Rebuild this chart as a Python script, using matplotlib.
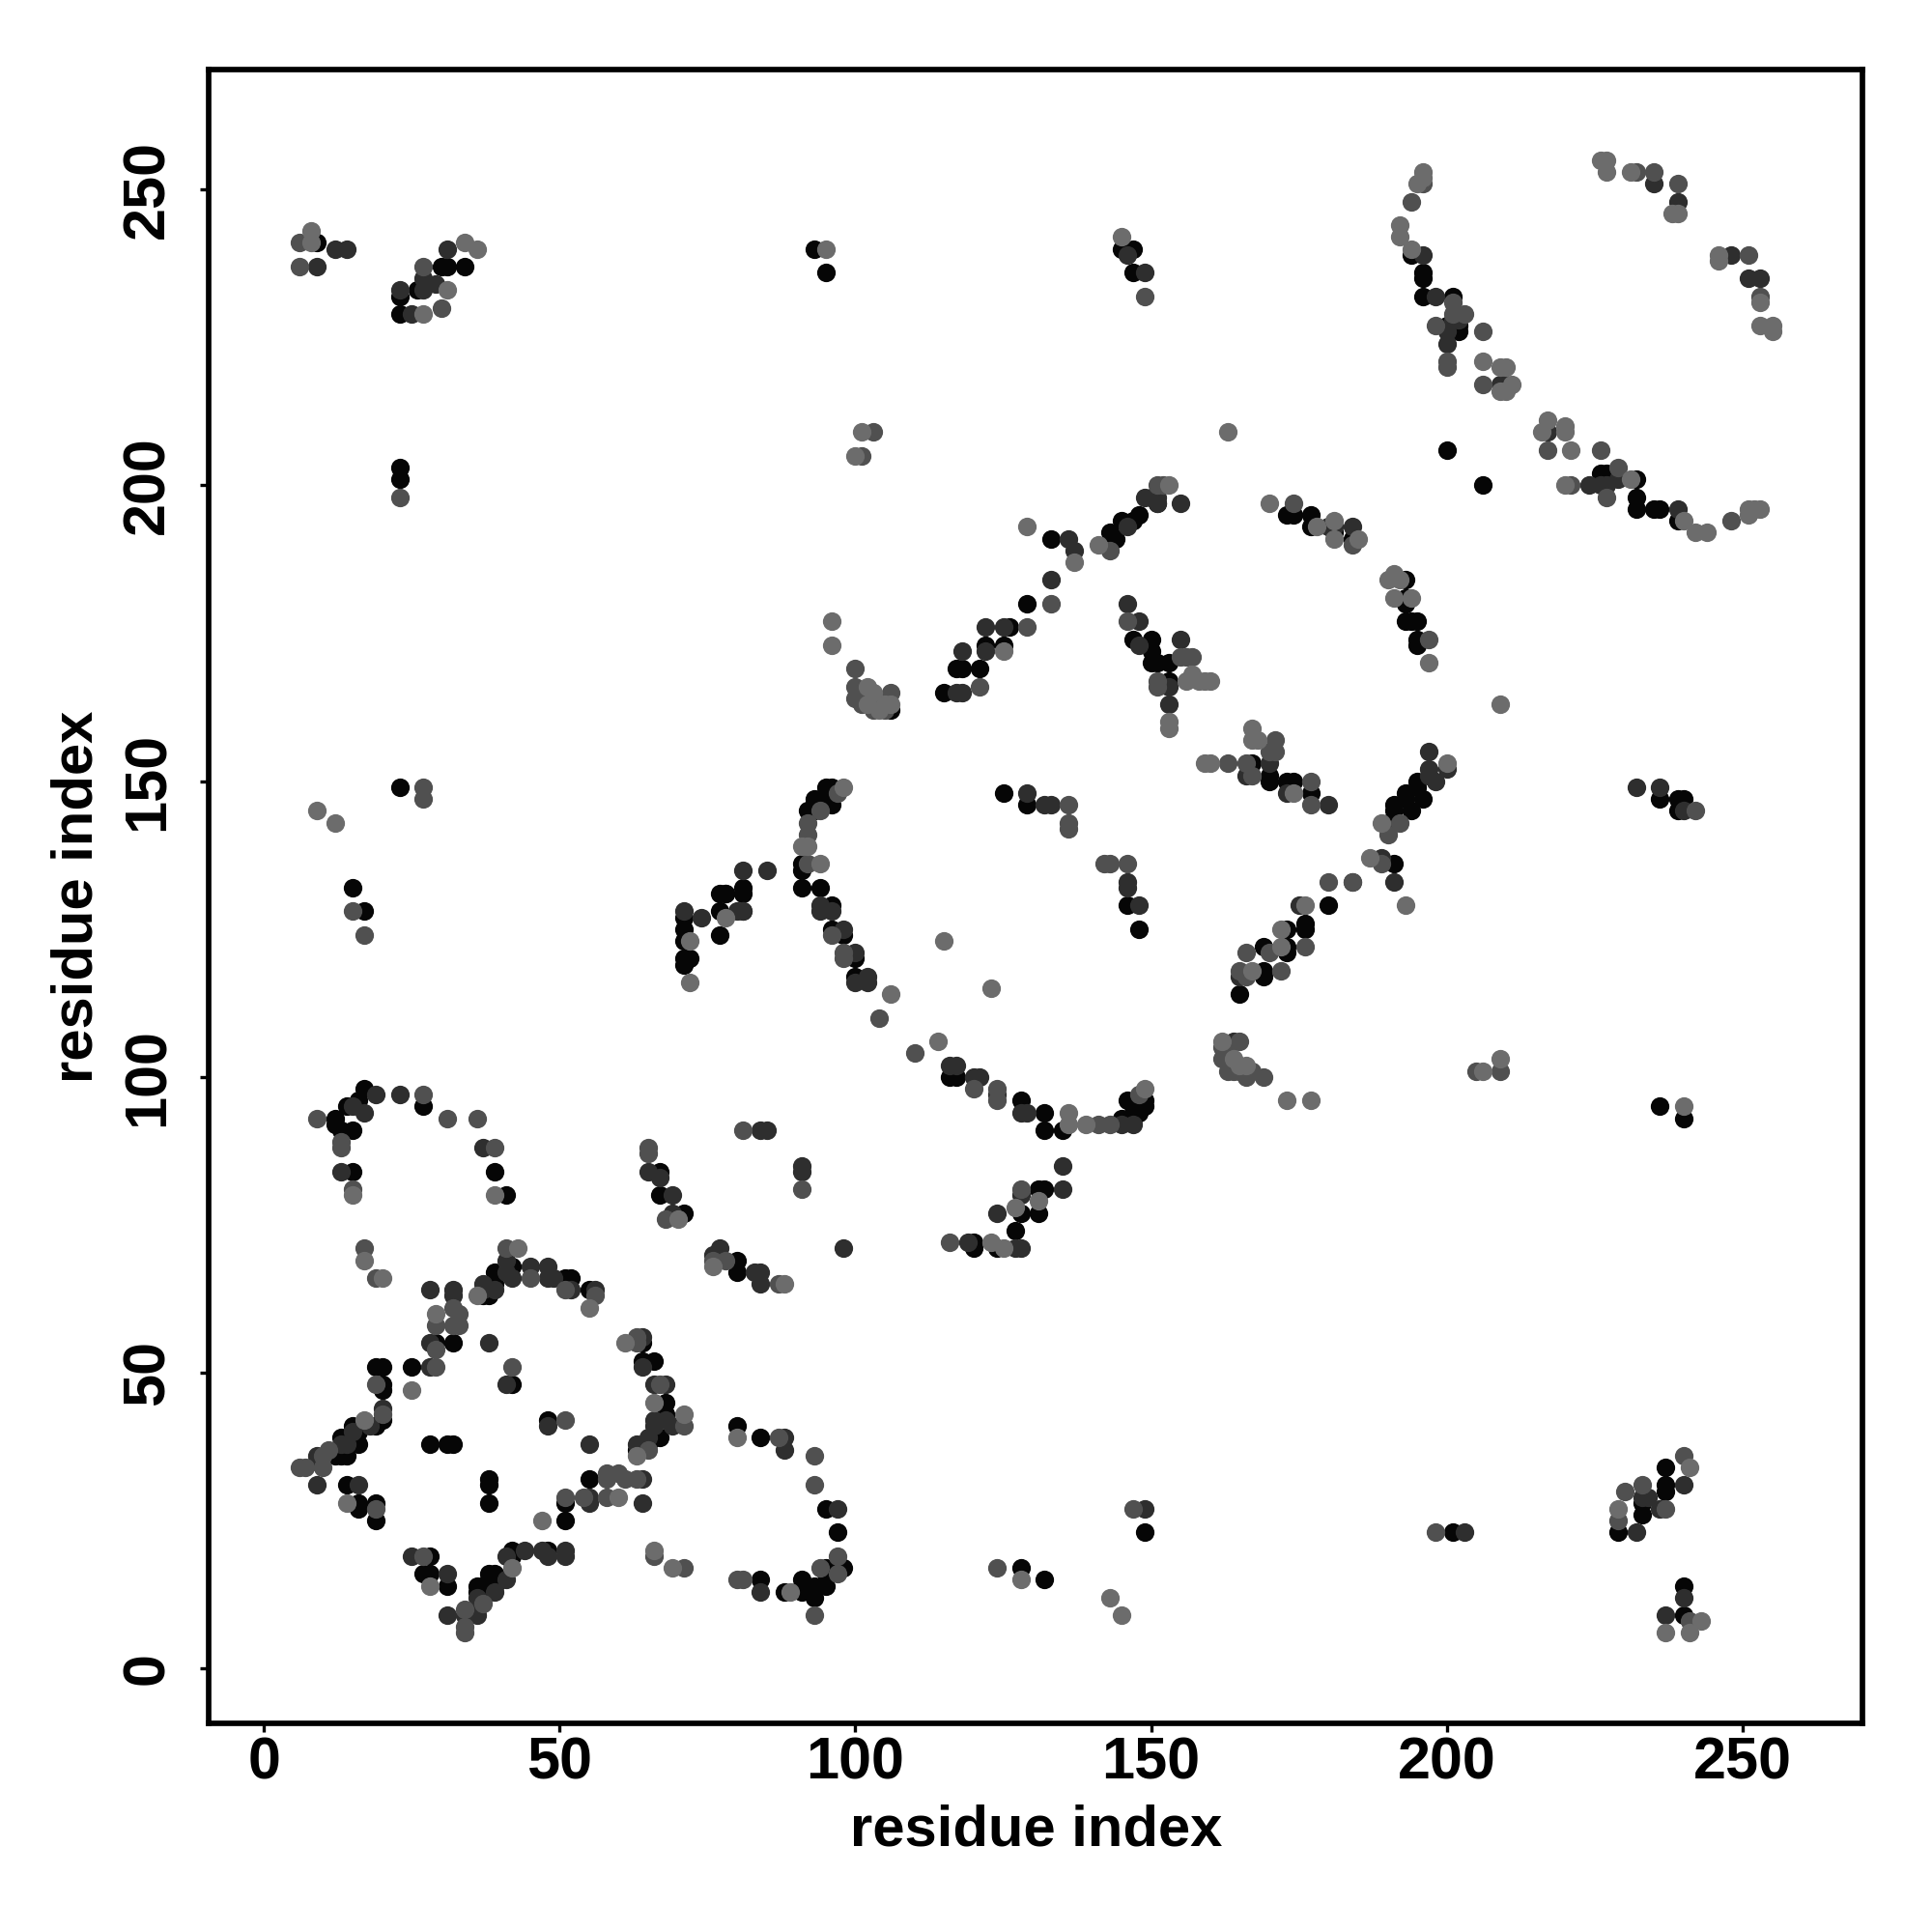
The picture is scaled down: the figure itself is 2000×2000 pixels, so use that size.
import matplotlib
matplotlib.use("Agg")
import matplotlib.pyplot as plt

plt.rcParams['font.family'] = ['Liberation Sans', 'DejaVu Sans']

tick_values = [0, 50, 100, 150, 200, 250]
axis_label = "residue index"

contacts_light = [(17,69),(20,66),(29,60),(25,47),(17,42),(14,28),(28,14),(42,17),(47,25),(36,63),(43,71),(55,61),(61,55),
 (66,45),(71,43),(63,36),(60,29),(76,68),(88,65),(80,39),(89,13),(66,20),(69,17),(98,149),(91,139),(92,139),(94,136),
 (106,114),(114,106),(115,123),(123,115),(136,94),(136,92),(139,92),(149,98),(162,106),(165,102),(173,96),(177,96),(206,101),(209,103),
 (127,78),(131,79),(123,72),(125,71),(78,127),(200,153),(189,143),(187,137),(193,129),(176,129),(172,125),(172,122),(167,118),
 (153,159),(167,159),(167,157),(168,157),(159,153),(160,153),(174,148),(196,253),(196,252),(195,251),(192,244),(192,242),(194,240),
 (206,221),(209,220),(210,220),(209,216),(210,216),(211,217),(226,255),(227,255),(227,253),(231,253),(238,246),(239,246),(246,239),(246,238),
 (253,231),(253,227),(255,227),(255,226),(163,209),(217,211),(216,209),(220,210),(220,209),(221,206),(220,200),(231,201),(240,194),(242,192),(244,192),
 (251,196),(251,195),(252,196),(253,196),(153,200),(170,197),(178,193),(181,194),(181,191),(185,191),(191,185),(190,184),(192,184),(191,181),(194,181),(197,170),
 (209,163),(156,167),(157,168),(158,167),(159,167),(160,167),(153,160),(27,229),(31,233),(34,241),(36,240),(95,240),(145,242),(101,209),(100,205),
 (125,172),(129,193),(137,187),(141,190),(96,177),(96,173),(102,166),(105,163),(104,162),(106,163),(72,123),(72,116),(70,76),
 (39,80),(15,80),(9,145),(12,143),(240,95),(241,34),(243,8),(237,6),(241,6),(128,15),(143,12),(145,9),(229,27),(8,243),(8,241),
 (166,102),(164,103),(103,165),(102,163)]

contacts_mid = [(17,71),(19,66),(29,58),(32,61),(33,60),(32,58),(33,58),(29,54),(29,51),(42,51),(19,48),(20,43),(10,36),(11,37),(10,34),(6,34),(7,34),
 (19,27),(51,42),(58,33),(60,33),(58,32),(61,32),(63,32),(51,29),(54,29),(58,29),(27,19),(37,11),(34,10),(34,7),(34,6),(41,71),(45,66),(51,64),(56,63),
 (63,56),(63,55),(67,48),(71,41),(65,37),(76,69),(78,69),(87,65),(87,39),(93,36),(93,31),(97,19),(97,16),(94,17),(93,9),(80,15),(81,15),(66,19),(71,17),
 (97,148),(94,145),(92,143),(92,141),(92,136),(96,124),(98,121),(98,120),(104,110),(110,104),(120,98),(124,98),(124,96),(141,92),(143,92),(148,97),
 (165,106),(162,103),(163,101),(166,100),(169,100),(205,101),(209,101),(81,91),(91,81),(128,81),(116,72),(136,146),(136,143),(136,142),(142,136),(143,136),(146,136),
 (192,143),(190,141),(189,136),(184,133),(180,133),(176,122),(170,121),(166,121),(172,118),(165,118),(166,117),(171,157),(170,155),(171,155),(163,153),(166,153),(167,151),(177,150),(177,146),
 (196,251),(194,248),(201,231),(198,227),(201,229),(203,229),(200,221),(200,220),(206,226),(206,217),(232,253),(235,253),(239,251),(251,239),(253,232),
 (217,206),(226,206),(221,200),(229,203),(227,198),(248,194),(151,200),(174,197),(184,190),(197,174),(155,171),(156,171),(157,171),(6,241),(6,237),
 (27,237),(30,230),(149,232),(103,209),(101,205),(121,166),(129,176),(133,180),(143,189),(152,200),(100,169),(100,166),(100,164),(101,163),(103,162),(106,165),(102,165),
 (146,177),(151,167),(151,166),(65,88),(65,87),(68,76),(13,89),(13,88),(15,81),(9,93),(27,97),(31,93),(36,93),(39,88),(27,149),(27,147),(15,128),(17,124),
 (198,23),(229,25),(230,30),(233,31),(237,27),(240,36),(241,8),(242,145),(124,17),(147,27),
 (23,198),(162,105),(163,104),(165,101),(164,101),(167,101),(101,165),(104,163),(105,162)]

contacts_dark = [(28,64),(32,64),(32,63),(28,55),(38,55),(28,51),(41,48),(20,44),(18,41),(15,40),(13,38),(14,38),(9,36),(9,31),(16,31),(48,41),(55,38),(64,32),
 (55,29),(55,28),(64,28),(25,19),(44,20),(47,20),(51,20),(48,19),(51,19),(41,19),(31,16),(41,15),(39,13),(36,12),(36,10),(31,9),(34,9),(36,9),(37,64),(39,64),
 (37,65),(41,67),(42,66),(41,69),(45,68),(48,68),(48,66),(49,66),(52,64),(56,64),(64,56),(64,51),(66,48),(68,48),(66,42),(68,42),(69,41),(66,41),(65,39),(63,38),
 (77,71),(76,70),(83,67),(84,67),(84,65),(98,71),(88,39),(88,37),(97,27),(84,13),(94,128),(96,128),(98,125),(100,121),(100,116),(102,117),(102,116),(116,102),(117,102),
 (120,100),(121,100),(124,97),(128,94),(129,94),(145,92),(164,106),(84,91),(85,91),(91,85),(91,84),(135,85),(135,81),(128,80),(124,77),(119,72),(127,71),(128,71),
 (81,135),(85,135),(81,128),(94,129),(129,148),(132,146),(133,146),(146,133),(146,132),(148,129),(197,155),(200,152),(197,152),(197,151),(198,150),(190,142),(189,137),
 (191,133),(184,133),(175,129),(165,117),(170,153),(166,151),(173,148),(180,146),(196,239),(198,232),(201,228),(202,228),(200,226),(200,224),(235,251),(239,248),
 (248,239),(251,235),(253,235),(209,217),(210,217),(217,209),(224,200),(226,200),(227,200),(229,201),(239,196),(155,197),(151,198),(181,193),(180,193),(184,193),
 (155,174),(153,166),(153,163),(12,240),(14,240),(9,237),(23,233),(25,229),(27,233),(27,235),(29,234),(31,240),(146,239),(149,236),(117,165),(118,165),(118,172),(122,172),
 (122,176),(125,176),(133,184),(136,191),(137,189),(146,193),(149,198),(151,197),(146,180),(148,177),(148,173),(71,128),(74,127),(81,128),(80,128),(65,84),(67,83),(69,80),(69,77),
 (37,88),(15,95),(17,94),(19,97),(23,97),(233,29),(234,29),(236,27),(240,31),(240,12),(237,9),(232,149),(236,149),(240,145),(232,23),(203,23),(149,27),
 (13,84),(147,92)]

contacts_black = [(19,51),(20,51),(25,51),(20,48),(20,47),(29,55),(32,55),(42,48),(20,42),(19,41),(15,41),(16,40),(13,39),(15,39),(16,38),(12,36),(14,36),(13,36),(9,35),
 (14,31),(16,28),(16,27),(19,28),(19,25),(28,38),(31,38),(32,38),(48,42),(38,32),(38,31),(38,28),(55,32),(51,28),(51,25),(28,19),(48,20),(42,20),(42,19),(27,16),(28,16),(31,14),
 (38,16),(39,16),(38,15),(39,14),(36,14),(36,13),(38,13),(37,63),(38,63),(38,64),(39,65),(39,67),(42,68),(52,66),(51,66),(55,64),(64,55),(64,52),(66,52),(68,45),(68,43),(67,39),
 (65,38),(63,37),(80,69),(80,67),(80,41),(84,39),(95,27),(97,23),(98,17),(95,17),(95,16),(95,14),(91,15),(93,14),(91,14),(91,13),(93,12),(88,13),(84,15),
 (95,149),(96,149),(95,148),(93,147),(96,146),(93,146),(92,145),(93,145),(91,135),(91,136),(91,132),(94,132),(96,129),(96,125),(98,124),(100,120),(100,117),(116,100),(117,100),
 (128,96),(132,94),(132,91),(135,91),(147,93),(146,96),(149,95),(149,96),(131,81),(132,81),(131,77),(128,77),(127,74),(120,72),(120,71),(124,71),
 (81,132),(81,131),(78,131),(125,148),(129,146),(146,129),(148,125),(195,150),(195,149),(193,148),(196,147),(193,147),(191,146),(194,145),(191,145),(190,143),(191,136),
 (180,129),(176,126),(176,125),(173,125),(173,122),(169,122),(173,121),(169,118),(169,117),(165,114),(167,153),(170,151),(170,150),(173,150),(174,150),(177,148),
 (194,239),(196,236),(196,235),(196,232),(201,232),(200,227),(202,227),(202,226),(200,206),(206,200),(226,202),(227,202),(232,201),(232,198),(232,196),(235,196),(236,196),(239,194),
 (151,197),(173,195),(174,195),(177,195),(177,193),(181,192),(184,191),(193,184),(193,181),(193,180),(193,177),(194,177),(195,177),(195,174),(195,173),(153,170),(151,170),(153,167),
 (9,241),(23,232),(23,229),(26,233),(30,237),(31,237),(34,237),(23,203),(23,201),(93,240),(95,236),(145,240),(147,240),(147,236),
 (115,165),(117,169),(118,169),(121,169),(122,173),(125,173),(126,176),(129,180),(133,191),(143,192),(144,191),(145,194),(147,194),(148,195),(150,198),
 (106,162),(147,174),(150,174),(150,172),(150,170),(71,127),(71,125),(71,123),(71,120),(72,120),(71,119),(77,131),(78,131),(77,128),(77,124),
 (67,84),(67,80),(71,77),(12,93),(12,92),(13,91),(15,84),(15,91),(14,95),(17,98),(16,96),(27,95),(39,84),(41,80),(23,149),(15,132),(17,128),
 (201,23),(229,23),(233,28),(233,26),(237,31),(237,30),(237,34),(240,14),(240,9),(236,147),(239,147),(240,147),(239,145),(236,95),(240,93),(128,17),(132,15),(149,23),
 (146,93),(145,93),(147,95),(148,94)]

tiers = [(contacts_black, '#060606'), (contacts_dark, '#2e2e2e'), (contacts_mid, '#505050'), (contacts_light, '#6c6c6c')]

fig = plt.figure(figsize=(10, 10), dpi=200)
ax = fig.add_axes([216.3/2000, 1 - 1784/2000, (1928.3-216.3)/2000, (1784-72)/2000])
for pts, col in tiers:
    ax.scatter([p[0] for p in pts], [p[1] for p in pts], s=48, c=col, linewidths=0, zorder=3)

ax.set_xlim(-9.27, 270.3)
ax.set_ylim(-9.27, 270.3)
ax.set_xticks(tick_values)
ax.set_yticks(tick_values)
ax.tick_params(length=3.2, width=1.2)
ax.tick_params(axis='x', labelsize=22, pad=1.8)
ax.tick_params(axis='y', labelsize=22, pad=9)
for lab in ax.get_xticklabels():
    lab.set_fontweight('bold')
for lab in ax.get_yticklabels():
    lab.set_fontweight('bold')
    lab.set_rotation(90)
    lab.set_va('center')
for s in ax.spines.values():
    s.set_linewidth(2.05)
ax.set_xlabel(axis_label, fontsize=21.5, fontweight='bold', labelpad=4.5)
ax.set_ylabel(axis_label, fontsize=21.5, fontweight='bold', labelpad=6.5)
fig.savefig("out.png", dpi=200, facecolor='white')
